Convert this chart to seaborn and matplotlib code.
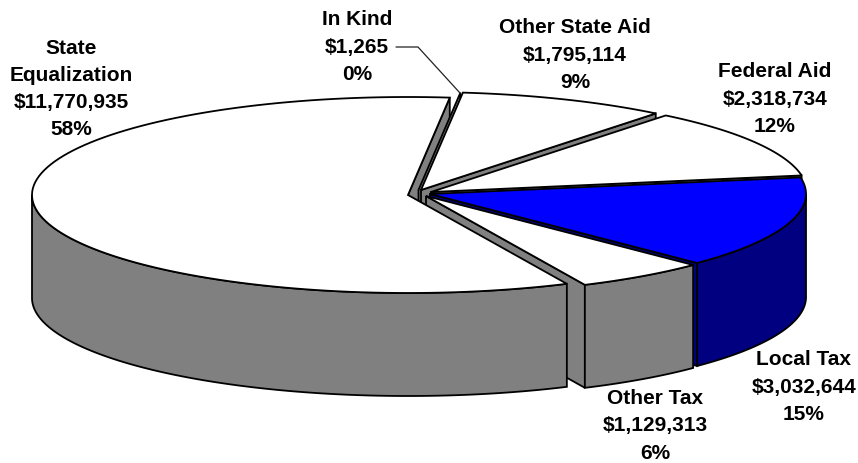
import numpy as np
import matplotlib
matplotlib.use("Agg")
import matplotlib.pyplot as plt
from matplotlib.patches import Polygon
import seaborn as sns

categories = ["Other State Aid", "Federal Aid", "Local Tax", "Other Tax", "State Equalization", "In Kind"]
amounts = [1795114, 2318734, 3032644, 1129313, 11770935, 1265]
percents = [9, 12, 15, 6, 58, 0]

sns.set_theme(style="white")
plt.rcParams["font.family"] = ["Liberation Sans", "DejaVu Sans"]

W, H = 858, 463
fig, ax = plt.subplots(figsize=(W / 100, H / 100), dpi=100)
ax.set_position([0, 0, 1, 1])
ax.set_xlim(0, W)
ax.set_ylim(H, 0)
ax.axis("off")

A, B, DEPTH = 376, 98, 103
START = 6.4
LW = 1.3
top_col = {"Local Tax": "#0000FF"}
side_col = {"Local Tax": "#000080"}
centers = {
    "In Kind": (418.5, 190), "Other State Aid": (421, 190), "Federal Aid": (431, 192),
    "Local Tax": (430, 194), "Other Tax": (426, 196), "State Equalization": (408, 195),
}

total = sum(amounts)
angles = {}
cur = START
for name in ["Other State Aid", "Federal Aid", "Local Tax", "Other Tax", "State Equalization"]:
    span = 360 * amounts[categories.index(name)] / total
    angles[name] = (cur, cur + span)
    cur += span
angles["In Kind"] = (START - 360 * amounts[5] / total, START)


def rim(name, t1, t2, n=120):
    t = np.radians(np.linspace(t1, t2, n))
    cx, cy = centers[name]
    return np.column_stack([cx + A * np.sin(t), cy - B * np.cos(t)])


def poly(pts, fc, z):
    ax.add_patch(Polygon(pts, closed=True, fc=fc, ec="black", lw=LW, joinstyle="miter", zorder=z))


def end_wall(name, t, z):
    c = np.array(centers[name], float)
    r = rim(name, t, t, 1)[0]
    d = np.array([0, DEPTH])
    poly([c, r, r + d, c + d], side_col.get(name, "#808080"), z)


def outer_wall(name, z):
    t1, t2 = angles[name]
    a, b = max(t1, 90), min(t2, 270)
    if a >= b:
        return
    r = rim(name, a, b)
    poly(np.vstack([r, r[::-1] + [0, DEPTH]]), side_col.get(name, "#808080"), z)


def top(name, z):
    t1, t2 = angles[name]
    poly(np.vstack([[centers[name]], rim(name, t1, t2)]), top_col.get(name, "white"), z)


z = 1
end_wall("State Equalization", angles["State Equalization"][1], z); z += 1
end_wall("In Kind", START, z); z += 1
for name in ["Other State Aid", "Federal Aid", "Local Tax", "Other Tax"]:
    t2 = angles[name][1]
    end_wall(name, t2, z); z += 1
    outer_wall(name, z); z += 1
    top(name, z); z += 1
outer_wall("State Equalization", z); z += 1
top("State Equalization", z); z += 1

label_pos = {
    "State Equalization": (71, 89), "In Kind": (357, 47), "Other State Aid": (575, 55),
    "Federal Aid": (775, 99), "Local Tax": (804, 387), "Other Tax": (655, 426),
}
for name, amt, pct in zip(categories, amounts, percents):
    x, y = label_pos[name]
    ax.text(x, y, f"{name.replace('State Equalization', 'State' + chr(10) + 'Equalization')}\n${amt:,}\n{pct}%",
            ha="center", va="center", fontsize=15, fontweight="bold", color="black",
            linespacing=1.55, zorder=50)

ax.plot([396, 418, 460], [47, 47, 93], color="#222222", lw=0.9, zorder=40)

fig.savefig("out.png", dpi=100)
